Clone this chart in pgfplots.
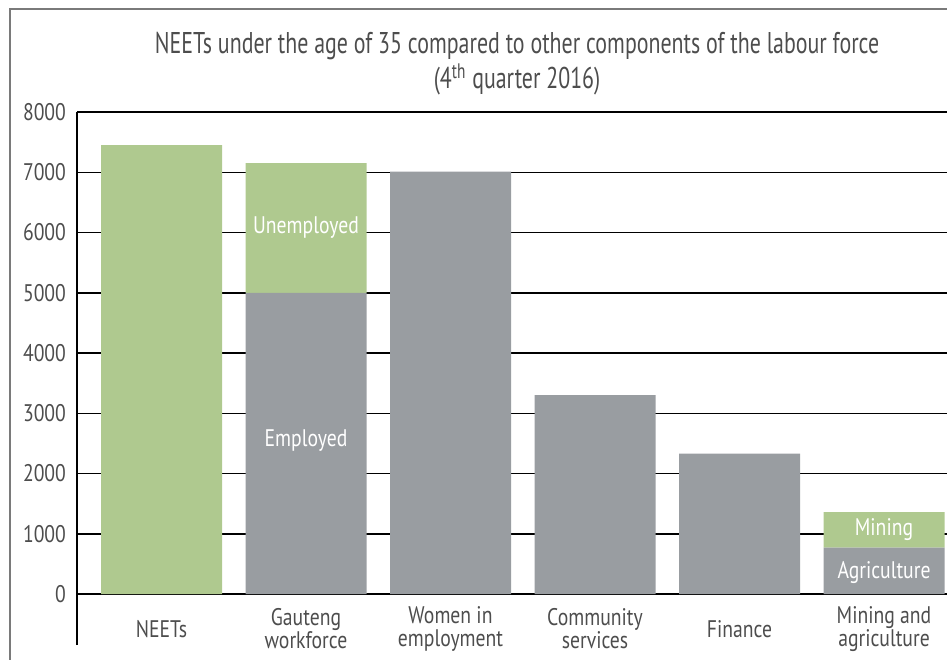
\documentclass[border=0pt]{standalone}
\usepackage{fontspec}
\setmainfont{PT Sans}[FakeStretch=0.82]
\newfontfamily\titlefont{PT Sans}[FakeStretch=0.73]
\usepackage{xcolor}
\usepackage{pgfplots}
\pgfplotsset{compat=1.18}

\definecolor{barGreen}{HTML}{AFC98F}
\definecolor{barGrey}{HTML}{999DA1}
\definecolor{txt}{HTML}{4D4D4D}
\definecolor{frame}{HTML}{7A7A7A}

\begin{document}
\begin{tikzpicture}
% 1px = 0.5pt, origin at top-left corner of the picture
\path[use as bounding box] (0,0) rectangle (473.5pt,-329.5pt);
\draw[frame, line width=1pt] (5pt,-330pt) -- (5pt,-4.5pt) -- (474pt,-4.5pt);

\node[txt, align=center, font=\titlefont\fontsize{15}{17.5}\selectfont]
  at (258.5pt,-32pt)
  {NEETs under the age of 35 compared to other components of the labour force\\
   (4\textsuperscript{th} quarter 2016)};

\begin{axis}[
  at={(38.5pt,-322.5pt)}, anchor=south west,
  scale only axis, width=435pt, height=266.5pt,
  ybar stacked, bar width=60.5pt,
  xmin=-0.585, xmax=5.436, ymin=-846, ymax=8000,
  axis lines*=left,
  x axis line style={draw=none},
  y axis line style={black, line width=0.75pt},
  major tick length=0pt,
  xtick={0,1,2,3,4,5},
  xticklabels={NEETs, Gauteng\\workforce, Women in\\employment,
    Community\\services, Finance, Mining and\\agriculture},
  xticklabel style={align=center, anchor=center, yshift=8pt,
    text=txt, font=\fontsize{12}{11.5}\selectfont},
  ytick={0,1000,...,8000},
  yticklabel style={text=txt, font=\fontsize{12}{12}\selectfont, xshift=-2pt},
  /pgf/number format/.cd, 1000 sep={}, assume math mode=true, /pgfplots/.cd,
  ymajorgrids=true,
  grid style={black, line width=0.75pt},
  clip=false,
]
% lower segment (grey)
\addplot[fill=barGrey, draw=none] coordinates {
  (0,0) (1,5000) (2,7010) (3,3300) (4,2330) (5,770)};
% upper segment (green)
\addplot[fill=barGreen, draw=none] coordinates {
  (0,7450) (1,2150) (2,0) (3,0) (4,0) (5,590)};

\coordinate (lUnemp) at (axis cs:1,6075);
\coordinate (lEmp)   at (axis cs:1,2550);
\coordinate (lMin)   at (axis cs:5,1062);
\coordinate (lAgr)   at (axis cs:5,365);
\end{axis}

\begin{scope}[every node/.style={white, font=\fontsize{12}{12}\selectfont}]
\node at (lUnemp) {Unemployed};
\node at (lEmp) {Employed};
\node at (lMin) {Mining};
\node at (lAgr) {Agriculture};
\end{scope}
\end{tikzpicture}
\end{document}
